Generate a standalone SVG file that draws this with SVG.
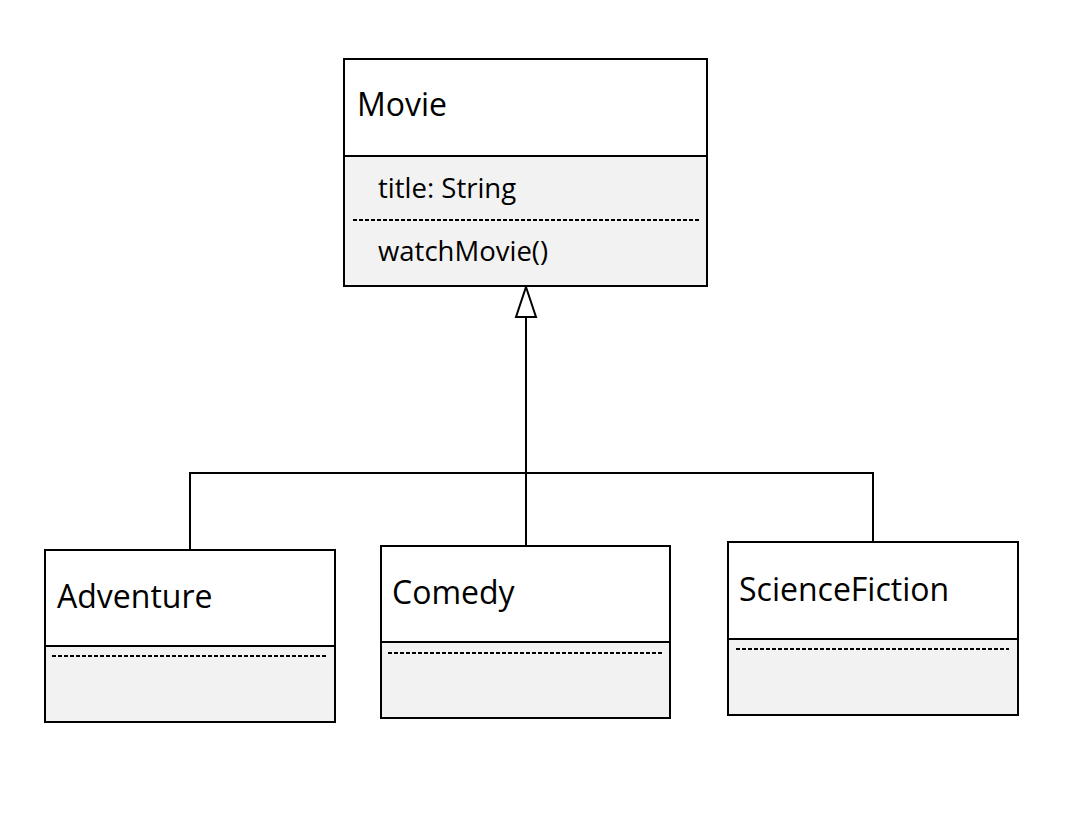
<svg xmlns="http://www.w3.org/2000/svg" width="1068" height="814" viewBox="0 0 1068 814">
<style>
.box{fill:#ffffff;stroke:#000;stroke-width:2}
.body{fill:#f2f2f2;stroke:#000;stroke-width:2}
.dash{stroke:#000;stroke-width:2;stroke-dasharray:4 2;fill:none}
.name{font-family:"Open Sans","Noto Sans",sans-serif;font-size:32px;fill:#000}
.mem{font-family:"Open Sans","Noto Sans",sans-serif;font-size:27.5px;fill:#000}
.conn{stroke:#000;stroke-width:2;fill:none}
.head{fill:#fff;stroke:#000;stroke-width:2}
</style>
<rect width="1068" height="814" fill="#fff"/>
<g id="connectors">
<path class="conn" d="M526 316 L526 546"/>
<path class="conn" d="M190 550 L190 473 L873 473 L873 542"/>
<path class="head" d="M526 287 L536 317 L516 317 Z"/>
</g>
<g id="movie">
<rect class="body" x="344" y="59" width="363" height="227"/>
<rect class="box" x="344" y="59" width="363" height="97"/>
<text class="name" x="357" y="116">Movie</text>
<text class="mem" x="378" y="198">title: String</text>
<line class="dash" x1="353" y1="220" x2="701" y2="220"/>
<text class="mem" x="378" y="261">watchMovie()</text>
</g>
<g id="adventure">
<rect class="body" x="45" y="550" width="290" height="172"/>
<rect class="box" x="45" y="550" width="290" height="96"/>
<text class="name" x="57" y="608">Adventure</text>
<line class="dash" x1="52" y1="656" x2="326" y2="656"/>
</g>
<g id="comedy">
<rect class="body" x="381" y="546" width="289" height="172"/>
<rect class="box" x="381" y="546" width="289" height="96"/>
<text class="name" x="392" y="604">Comedy</text>
<line class="dash" x1="388" y1="653" x2="662" y2="653"/>
</g>
<g id="sciencefiction">
<rect class="body" x="728" y="542" width="290" height="173"/>
<rect class="box" x="728" y="542" width="290" height="97"/>
<text class="name" x="739" y="601">ScienceFiction</text>
<line class="dash" x1="736" y1="649" x2="1009" y2="649"/>
</g>
</svg>
